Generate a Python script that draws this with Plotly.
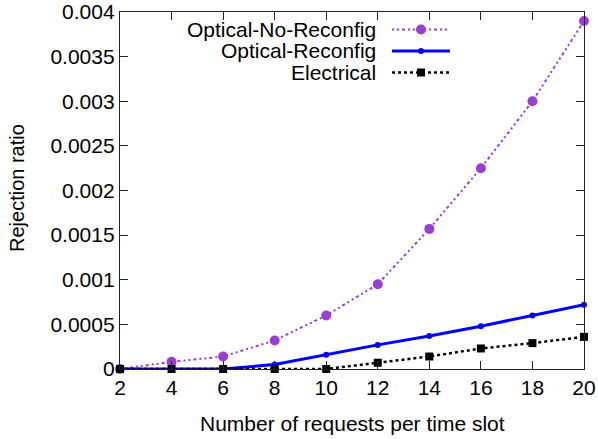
import plotly.graph_objects as go

x_vals = [2, 4, 6, 8, 10, 12, 14, 16, 18, 20]
optical_no_reconfig = [0.0, 0.00008, 0.00014, 0.00032, 0.0006, 0.00095, 0.00157, 0.00225, 0.003, 0.0039]
optical_reconfig = [0.0, 0.0, 0.0, 0.00005, 0.00016, 0.00027, 0.00037, 0.00048, 0.0006, 0.00072]
electrical = [0.0, 0.0, 0.0, 0.0, 0.0, 0.00007, 0.00014, 0.00023, 0.00029, 0.00036]
series_names = ["Optical-No-Reconfig", "Optical-Reconfig", "Electrical"]
y_ticks = [0, 0.0005, 0.001, 0.0015, 0.002, 0.0025, 0.003, 0.0035, 0.004]
y_tick_text = ["0", "0.0005", "0.001", "0.0015", "0.002", "0.0025", "0.003", "0.0035", "0.004"]
x_ticks = [2, 4, 6, 8, 10, 12, 14, 16, 18, 20]
x_title = "Number of requests per time slot"
y_title = "Rejection ratio"

purple = "#9a3dd2"
blue = "#0000ff"
black = "#000000"
purple_dash = "2px,3px,2px,3px,3px,3px"
font = "Liberation Sans, Arial, Helvetica, sans-serif"
FS = 21

W, H = 598, 439
plot_l, plot_r, plot_t, plot_b = 120, 584, 12, 369

def px_x(px):
    return (px - plot_l) / (plot_r - plot_l)

def px_y(py):
    return (plot_b - py) / (plot_b - plot_t)

fig = go.Figure()
fig.add_trace(go.Scatter(x=x_vals, y=optical_no_reconfig, mode="lines+markers",
                         line=dict(color=purple, width=2, dash=purple_dash),
                         marker=dict(color=purple, size=10, symbol="circle"),
                         name=series_names[0], showlegend=False, cliponaxis=False))
fig.add_trace(go.Scatter(x=x_vals, y=optical_reconfig, mode="lines+markers",
                         line=dict(color=blue, width=3),
                         marker=dict(color=blue, size=6, symbol="circle"),
                         name=series_names[1], showlegend=False, cliponaxis=False))
fig.add_trace(go.Scatter(x=x_vals, y=electrical, mode="lines+markers",
                         line=dict(color=black, width=2.5, dash="dot"),
                         marker=dict(color=black, size=8, symbol="square"),
                         name=series_names[2], showlegend=False, cliponaxis=False))

# Manual gnuplot-style legend: text right-aligned, line sample on the right
leg_styles = [
    (purple, 2, purple_dash, 10, "circle"),
    (blue, 3, "solid", 6, "circle"),
    (black, 2.5, "dot", 8, "square"),
]
rows_y = [29.5, 51, 72.5]
shapes = []
annotations = []
for name, (col, w, dash, msize, sym), ry in zip(series_names, leg_styles, rows_y):
    yy = px_y(ry)
    annotations.append(dict(x=px_x(378), y=yy, xref="paper", yref="paper",
                            text=name, showarrow=False, xanchor="right", yanchor="middle",
                            font=dict(family=font, size=FS, color="black")))
    shapes.append(dict(type="line", xref="paper", yref="paper",
                       x0=px_x(392), x1=px_x(450), y0=yy, y1=yy,
                       line=dict(color=col, width=w, dash=dash)))
    r = msize / 2
    shapes.append(dict(type=("circle" if sym == "circle" else "rect"), xref="paper", yref="paper",
                       x0=px_x(421 - r), x1=px_x(421 + r),
                       y0=px_y(ry + r), y1=px_y(ry - r),
                       fillcolor=col, line=dict(color=col, width=0)))

# axis titles as annotations
annotations.append(dict(x=px_x(352), y=px_y(424), xref="paper", yref="paper",
                        text=x_title, showarrow=False, xanchor="center", yanchor="middle",
                        font=dict(family=font, size=FS, color="black")))
annotations.append(dict(x=px_x(17), y=px_y(188), xref="paper", yref="paper",
                        text=y_title, showarrow=False, xanchor="center", yanchor="middle",
                        textangle=-90,
                        font=dict(family=font, size=20, color="black")))

fig.update_layout(
    width=W, height=H,
    margin=dict(l=plot_l, r=W - plot_r, t=plot_t, b=H - plot_b, pad=0),
    paper_bgcolor="white", plot_bgcolor="white",
    font=dict(family=font, size=FS, color="black"),
    shapes=shapes, annotations=annotations,
    showlegend=False,
)
axis_common = dict(ticks="inside", ticklen=8, tickwidth=1, tickcolor="#222",
                   showline=True, linecolor="#222", linewidth=1.3, mirror="ticks",
                   showgrid=False, zeroline=False, automargin=False,
                   tickfont=dict(family=font, size=FS, color="black"))
fig.update_xaxes(range=[2, 20], tickvals=x_ticks, **axis_common)
fig.update_yaxes(range=[0, 0.004], tickvals=y_ticks, ticktext=y_tick_text, **axis_common)

fig.write_html("out.html", config={"displayModeBar": False},
               post_script="document.body.style.margin='0';document.body.style.overflow='hidden';")
